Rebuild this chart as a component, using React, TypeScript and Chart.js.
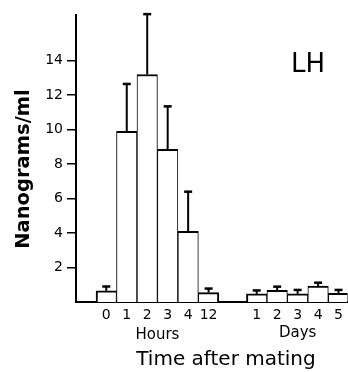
import React, { useEffect, useRef } from "react";
import { Chart, registerables } from "chart.js";

Chart.register(...registerables);

// ---- data ----
const hourLabels = ["0", "1", "2", "3", "4", "12"];
const dayLabels = ["1", "2", "3", "4", "5"];
const hourPositions = [0, 1, 2, 3, 4, 5];
const dayPositions = [7.35, 8.35, 9.35, 10.35, 11.35];
const hourMeans = [0.65, 9.9, 13.2, 8.85, 4.1, 0.54];
const hourSE = [0.25, 2.75, 3.5, 2.5, 2.3, 0.24];
const dayMeans = [0.47, 0.67, 0.47, 0.92, 0.5];
const daySE = [0.2, 0.22, 0.23, 0.2, 0.2];
const yTickValues = [2, 4, 6, 8, 10, 12, 14];

const allLabels = [...hourLabels, ...dayLabels];
const allPositions = [...hourPositions, ...dayPositions];
const allMeans = [...hourMeans, ...dayMeans];
const allSE = [...hourSE, ...daySE];

const FONT = "'DejaVu Sans', 'Noto Sans', sans-serif";

const annotations = {
  id: "annotations",
  afterDatasetsDraw(chart: any) {
    const { ctx, scales } = chart;
    const y = scales.y;
    const meta = chart.getDatasetMeta(0);
    ctx.save();
    ctx.strokeStyle = "#000";
    ctx.lineCap = "butt";
    meta.data.forEach((bar: any, i: number) => {
      const top = y.getPixelForValue(allMeans[i] + allSE[i]);
      ctx.lineWidth = 2;
      ctx.beginPath();
      ctx.moveTo(bar.x, bar.y);
      ctx.lineTo(bar.x, top);
      ctx.stroke();
      ctx.lineWidth = 2.5;
      ctx.beginPath();
      ctx.moveTo(bar.x - 4, top);
      ctx.lineTo(bar.x + 4, top);
      ctx.stroke();
    });
    ctx.restore();
  },
  afterDraw(chart: any) {
    const { ctx, scales } = chart;
    const x = scales.x;
    ctx.save();
    ctx.fillStyle = "#000";
    ctx.textAlign = "center";
    ctx.textBaseline = "middle";

    ctx.font = `15px ${FONT}`;
    const hCenter =
      (x.getPixelForValue(hourPositions[0]) +
        x.getPixelForValue(hourPositions[hourPositions.length - 1])) / 2;
    const dCenter =
      (x.getPixelForValue(dayPositions[0]) +
        x.getPixelForValue(dayPositions[dayPositions.length - 1])) / 2;
    ctx.fillText("Hours", hCenter, 335);
    ctx.fillText("Days", dCenter, 333);

    ctx.font = `20px ${FONT}`;
    ctx.fillText("Time after mating", 226, 360);

    ctx.font = `26px ${FONT}`;
    ctx.fillText("LH", 308, 65);

    ctx.translate(24, 169);
    ctx.rotate(-Math.PI / 2);
    ctx.font = `bold 19.5px ${FONT}`;
    ctx.fillText("Nanograms/ml", 0, 0);
    ctx.restore();
  },
};

export default function App() {
  const canvasRef = useRef<HTMLCanvasElement | null>(null);

  useEffect(() => {
    if (!canvasRef.current) return;
    const n = allPositions.length;
    const chart = new Chart(canvasRef.current, {
      type: "bar",
      data: {
        datasets: [
          {
            data: allPositions.map((p, i) => ({ x: p, y: allMeans[i] })),
            backgroundColor: "#fff",
            borderColor: "#000",
            borderWidth: (c: any) => {
              const i = c.dataIndex;
              const groupStart = i === 0 || i === hourPositions.length;
              const groupEnd = i === hourPositions.length - 1 || i === n - 1;
              return { top: 2, bottom: 0, left: groupStart ? 2 : 1, right: groupEnd ? 2 : 1 };
            },
            borderSkipped: "start",
            barPercentage: 1,
            categoryPercentage: 1,
          } as any,
        ],
      },
      options: {
        responsive: false,
        animation: false,
        devicePixelRatio: 1,
        layout: { padding: { top: 15, left: 0, right: 0, bottom: 0 } },
        plugins: {
          legend: { display: false },
          tooltip: { enabled: false },
          title: { display: false },
        },
        scales: {
          x: {
            type: "linear",
            offset: false,
            min: -1.48,
            max: 11.79,
            grid: { display: false, drawTicks: false, offset: false },
            border: { display: true, color: "#000", width: 2 },
            afterBuildTicks: (scale: any) => {
              scale.ticks = allPositions.map((v) => ({ value: v }));
            },
            afterFit: (scale: any) => {
              scale.height = 70;
            },
            ticks: {
              autoSkip: false,
              maxRotation: 0,
              minRotation: 0,
              padding: 5,
              color: "#000",
              font: { family: FONT, size: 14 },
              callback: (_v: any, i: number) => allLabels[i],
            },
          },
          y: {
            type: "linear",
            min: 0,
            max: 16.65,
            grid: {
              display: true,
              drawOnChartArea: false,
              drawTicks: true,
              tickLength: 9,
              color: "#000",
              lineWidth: 1.5,
            },
            border: { display: true, color: "#000", width: 2 },
            afterBuildTicks: (scale: any) => {
              scale.ticks = yTickValues.map((v) => ({ value: v }));
            },
            afterFit: (scale: any) => {
              scale.width = 76;
            },
            ticks: {
              padding: 4,
              color: "#000",
              font: { family: FONT, size: 14 },
            },
          },
        },
      } as any,
      plugins: [annotations],
    });
    return () => chart.destroy();
  }, []);

  return (
    <div style={{ position: "absolute", left: 0, top: 0, width: 348, height: 372, background: "#fff" }}>
      <canvas ref={canvasRef} width={348} height={372} style={{ display: "block" }} />
    </div>
  );
}
